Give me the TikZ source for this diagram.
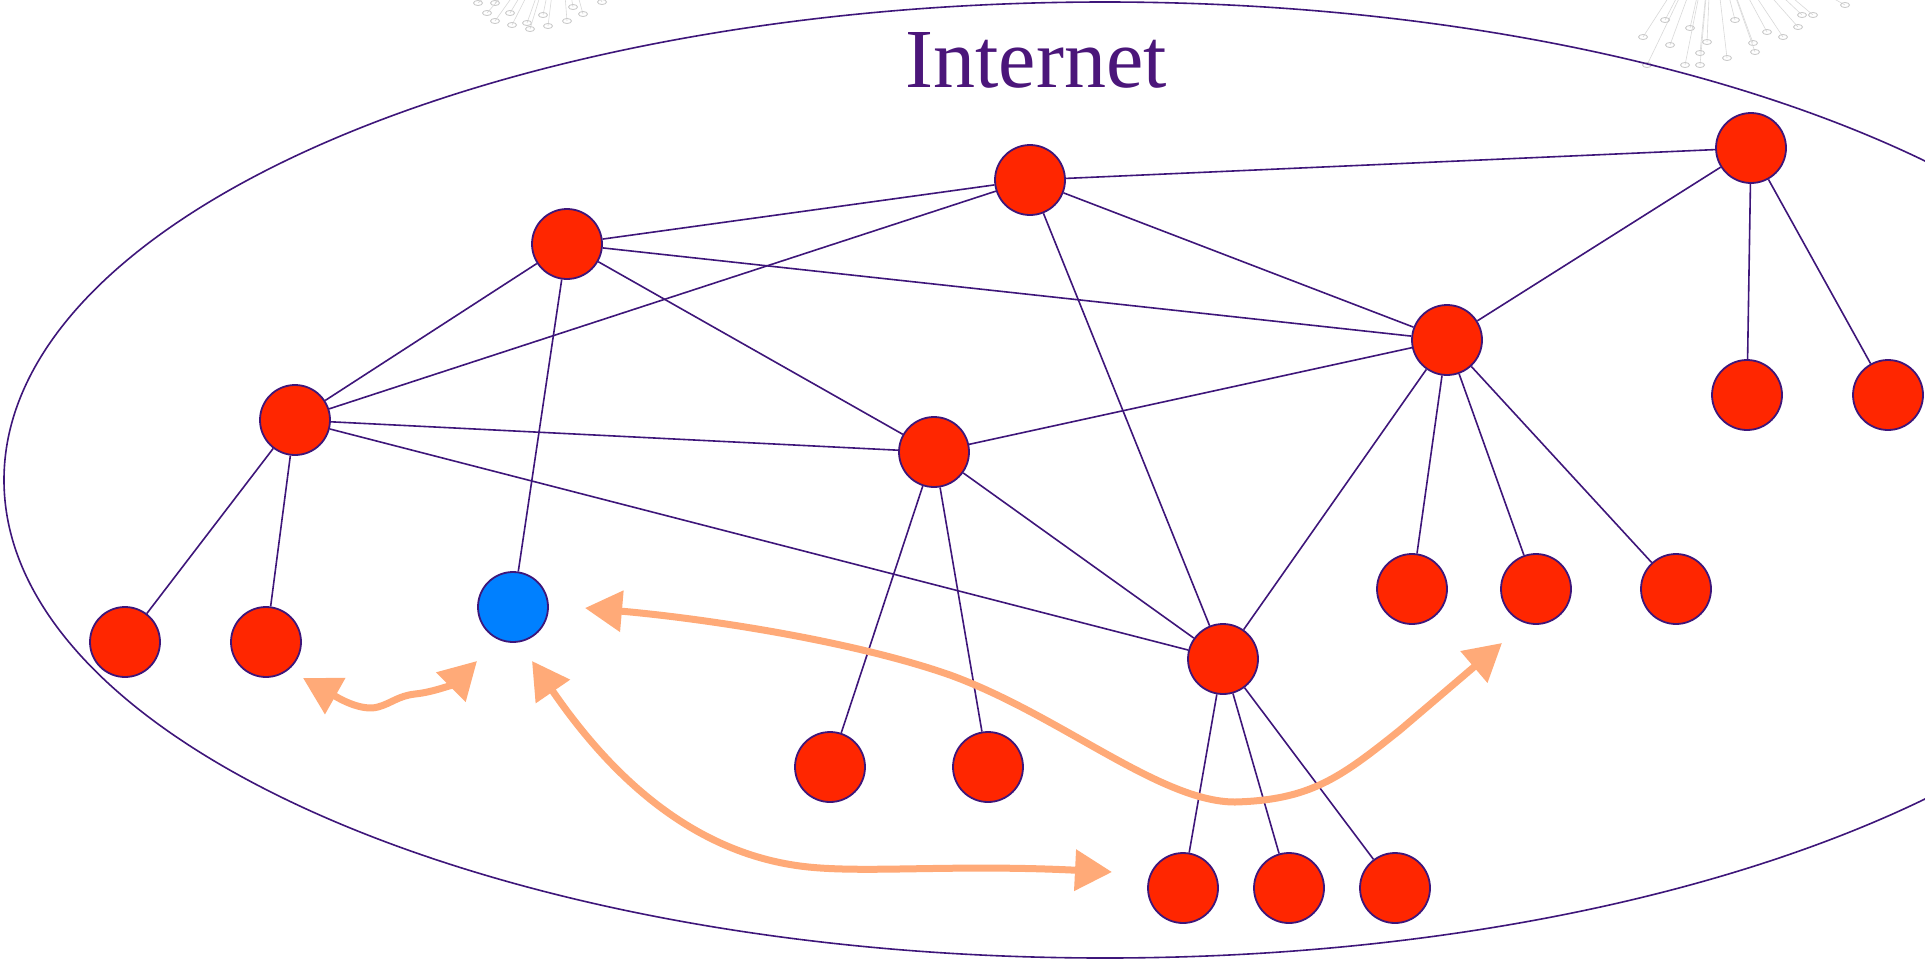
\documentclass[tikz,border=0pt]{standalone}
\usepackage{fontspec}
\setmainfont{Liberation Serif}
\usetikzlibrary{arrows.meta}
\definecolor{netred}{RGB}{255,38,0}
\definecolor{netblue}{RGB}{0,128,255}
\definecolor{netline}{RGB}{62,22,122}
\definecolor{nettext}{RGB}{75,22,122}
\definecolor{flowcol}{RGB}{255,170,120}
\tikzset{
  host/.style={circle, minimum size=70pt, inner sep=0pt, fill=netred, draw=netline, line width=1.8pt},
  client/.style={host, fill=netblue},
  link/.style={draw=netline, line width=1.6pt},
  flow/.style={draw=flowcol, line width=7pt, {Triangle[length=37pt,width=40pt]}-{Triangle[length=37pt,width=40pt]}},
  fan/.style={draw=gray!30, line width=0.6pt}
}
\begin{document}
\begin{tikzpicture}[x=1pt,y=-1pt]
\useasboundingbox (0,0) rectangle (1925,962);
\clip (0,0) rectangle (1925,962);
\fill[white] (0,0) rectangle (1925,962);

% faint background fans (cut off at top)
\coordinate (fl) at (560,-70);
\foreach \p in {(478,3),(495,3),(487,13),(495,21),(512,25),(510,13),(527,23),(530,29),(548,26),(543,15),(567,21),(573,7),(583,14),(602,2)}{
  \draw[fan] (fl) -- \p;
  \draw[gray!45, line width=0.8pt] \p ellipse [x radius=4.5pt, y radius=2.5pt];
}
\coordinate (fr) at (1712,-70);
\foreach \p in {(1643,37),(1647,65),(1670,45),(1685,65),(1700,65),(1700,53),(1707,42),(1727,58),(1753,43),(1755,52),(1767,32),(1783,37),(1798,27),(1802,15),(1813,15),(1665,20),(1690,28),(1735,20),(1845,5)}{
  \draw[fan] (fr) -- \p;
  \draw[gray!45, line width=0.8pt] \p ellipse [x radius=4.5pt, y radius=2.5pt];
}

% Internet ellipse
\draw[netline, line width=1.6pt] (1105,480) ellipse [x radius=1101pt, y radius=478pt];
\node[anchor=base, text=nettext, font=\fontsize{84}{90}\selectfont, inner sep=0pt] (title) at (1036,87) {Internet};

% nodes
\node[host] (A) at (567,244) {};
\node[host] (B) at (1030,180) {};
\node[host] (C) at (1751,148) {};
\node[host] (D) at (295,420) {};
\node[host] (E) at (1447,340) {};
\node[host] (F) at (934,452) {};
\node[host] (G) at (1747,395) {};
\node[host] (H) at (1888,395) {};
\node[host] (I) at (125,642) {};
\node[host] (J) at (266,642) {};
\node[client] (K) at (513,607) {};
\node[host] (L) at (1412,589) {};
\node[host] (M) at (1536,589) {};
\node[host] (N) at (1676,589) {};
\node[host] (O) at (1223,659) {};
\node[host] (P) at (830,767) {};
\node[host] (Q) at (988,767) {};
\node[host] (R) at (1183,888) {};
\node[host] (S) at (1289,888) {};
\node[host] (T) at (1395,888) {};

% links
\foreach \a/\b in {A/B,A/D,A/F,A/E,A/K,B/D,B/E,B/O,C/B,C/E,C/G,C/H,D/F,D/O,D/I,D/J,E/F,E/O,E/L,E/M,E/N,F/P,F/Q,F/O,O/R,O/S,O/T}{
  \draw[link] (\a) -- (\b);
}

% flows
\coordinate (f1a) at (303,678);
\coordinate (f1b) at (477,661);
\draw[flow] (f1a) .. controls (335,696) and (360,712) .. (378,707)
  .. controls (392,703) and (398,696) .. (415,694)
  .. controls (435,692) and (455,683) .. (f1b);

\coordinate (f2a) at (532,661);
\coordinate (f2b) at (1112,872);
\draw[flow] (f2a) .. controls (600,760) and (680,850) .. (800,866)
  .. controls (860,874) and (950,864) .. (f2b);

\coordinate (f3a) at (585,608);
\coordinate (f3b) at (1502,643);
\draw[flow] (f3a) .. controls (700,618) and (850,640) .. (950,675)
  .. controls (1060,715) and (1160,802) .. (1235,802)
  .. controls (1310,800) and (1340,778) .. (1400,730) -- (f3b);
\end{tikzpicture}
\end{document}
